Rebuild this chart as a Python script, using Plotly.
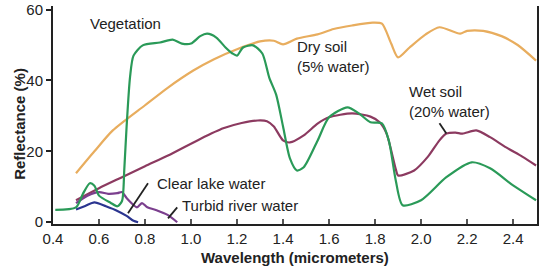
import plotly.graph_objects as go

# ---- data (wavelength in micrometers, reflectance in %) ----
veg_w = [0.41, 0.5, 0.53, 0.56, 0.58, 0.6, 0.65, 0.68, 0.70, 0.71, 0.72, 0.735, 0.75, 0.79, 0.865,
         0.92, 0.96, 1.0, 1.04, 1.07, 1.11, 1.15, 1.18, 1.2, 1.226, 1.27, 1.31, 1.34, 1.37, 1.40,
         1.43, 1.46, 1.49, 1.55, 1.6, 1.68, 1.73, 1.78, 1.83, 1.86, 1.89, 1.92, 2.0, 2.11, 2.22,
         2.3, 2.4, 2.5]
veg_r = [3.5, 4.2, 8, 11, 10.3, 7.5, 5.5, 4.5, 6, 15, 27, 41, 47, 49.9, 50.7,
         51.5, 50.4, 50.4, 52.5, 53.2, 52.1, 49.3, 47.6, 47, 49.3, 49.9, 47.6, 40.8, 36, 27,
         18, 14.6, 15.5, 23, 29.6, 32.4, 30.7, 28.2, 27.9, 23, 11.8, 4.8, 6.2, 12.7, 16.9,
         15.2, 10.4, 6.2]

dry_w = [0.5, 0.58, 0.66, 0.8, 0.9, 1.01, 1.1, 1.2, 1.3, 1.36, 1.4, 1.46, 1.55, 1.62, 1.7,
         1.79, 1.83, 1.87, 1.9, 1.95, 2.02, 2.08, 2.17, 2.2, 2.27, 2.35, 2.42, 2.5]
dry_r = [13.8, 20, 25.9, 33, 38, 42.8, 46, 48.8, 51, 51.2, 50.2, 51.8, 53, 54.5, 55.5,
         56.3, 56, 50.4, 46.5, 49.3, 53, 55, 53.2, 54, 54, 52.5, 50, 45.6]

wet_w = [0.5, 0.6, 0.7, 0.8, 0.9, 1.04, 1.14, 1.22, 1.29, 1.33, 1.36, 1.40, 1.43, 1.49, 1.55,
         1.6, 1.70, 1.78, 1.82, 1.85, 1.89, 1.9, 1.97, 2.03, 2.08, 2.11, 2.15, 2.18, 2.24,
         2.3, 2.37, 2.44, 2.5]
wet_r = [6.2, 9.6, 12.7, 15.8, 18.8, 23.5, 26.5, 28, 28.7, 28.5, 27, 23.1, 22.5, 24.5, 27.8,
         29.6, 30.7, 29.8, 28.2, 25, 15, 13.2, 14.6, 18.5, 23.1, 25, 25.3, 25, 25.9,
         24, 21.1, 18.5, 16]

lake_w = [0.5, 0.54, 0.58, 0.63, 0.68, 0.72, 0.75, 0.77]
lake_r = [3.6, 4.6, 5.6, 4.5, 3.2, 1.8, 0.4, 0]

river_w = [0.5, 0.55, 0.6, 0.64, 0.68, 0.70, 0.72, 0.765, 0.787, 0.81, 0.85, 0.9, 0.94]
river_r = [5.4, 7.5, 8.5, 8.0, 8.2, 8.5, 6.8, 4.2, 5.4, 4.2, 3.4, 2.0, 0]

x_ticks = [0.4, 0.6, 0.8, 1.0, 1.2, 1.4, 1.6, 1.8, 2.0, 2.2, 2.4]
y_ticks = [0, 20, 40, 60]

FONT = "Liberation Sans, Arial, sans-serif"
TXT = "#222222"

fig = go.Figure()

def add(w, r, color, name):
    fig.add_trace(go.Scatter(x=w, y=r, mode="lines", name=name,
                             line=dict(color=color, width=2.2, shape="spline", smoothing=0.7),
                             showlegend=False, hoverinfo="skip"))

add(dry_w, dry_r, "#e8ad5e", "Dry soil")
add(wet_w, wet_r, "#8c3a60", "Wet soil")
add(river_w, river_r, "#7b3f8e", "Turbid river water")
add(lake_w, lake_r, "#2b3590", "Clear lake water")
add(veg_w, veg_r, "#2a9a58", "Vegetation")

# pointer lines
fig.add_trace(go.Scatter(x=[0.813, 0.726], y=[11, 2.5], mode="lines",
                         line=dict(color="#222", width=1.8), showlegend=False, hoverinfo="skip"))
fig.add_trace(go.Scatter(x=[0.94, 0.9], y=[4.2, 1.1], mode="lines",
                         line=dict(color="#222", width=1.8), showlegend=False, hoverinfo="skip"))
fig.add_trace(go.Scatter(x=[2.08, 2.11], y=[27.9, 25], mode="lines",
                         line=dict(color="#222", width=1.8), showlegend=False, hoverinfo="skip"))

def label(x, y, text, xanchor="left"):
    fig.add_annotation(x=x, y=y, text=text, showarrow=False, xanchor=xanchor, yanchor="middle",
                       align="left", font=dict(family=FONT, size=15, color=TXT))

label(0.713, 56, "Vegetation", xanchor="center")
label(1.452, 46.8, "Dry soil<br>(5% water)")
label(1.939, 34.1, "Wet soil<br>(20% water)")
label(0.843, 11, "Clear lake water")
label(0.952, 4.8, "Turbid river water")

# axis titles as annotations (placed tightly as in the reference)
fig.add_annotation(xref="paper", yref="paper", x=0.5, y=-0.155, yanchor="middle",
                   text="<b>Wavelength (micrometers)</b>", showarrow=False,
                   font=dict(family=FONT, size=15, color=TXT))
fig.add_annotation(xref="paper", yref="paper", x=-0.068, y=0.46, xanchor="center", yanchor="middle",
                   text="<b>Reflectance (%)</b>", showarrow=False, textangle=-90,
                   font=dict(family=FONT, size=15, color=TXT))

fig.update_layout(
    width=543, height=268,
    margin=dict(l=53, r=6, t=6, b=44),
    paper_bgcolor="white", plot_bgcolor="white",
    font=dict(family=FONT, size=15, color=TXT),
)
fig.update_xaxes(range=[0.4, 2.504], tickvals=x_ticks, ticktext=[f"{v:.1f}" for v in x_ticks],
                 showgrid=False, zeroline=False, showline=True, linecolor="#222", linewidth=2,
                 ticks="inside", ticklen=5, tickcolor="#555", tickwidth=1.5, automargin=False,
                 tickfont=dict(family=FONT, size=15, color=TXT))
fig.update_yaxes(range=[-0.5, 61], tickvals=y_ticks,
                 showgrid=False, zeroline=False, showline=True, linecolor="#222", linewidth=2,
                 mirror=True, automargin=False,
                 ticks="outside", ticklen=5, tickcolor="#222", tickwidth=1.5,
                 tickfont=dict(family=FONT, size=15, color=TXT))

fig.write_html("out.html", config={"displayModeBar": False},
               post_script="document.body.style.margin='0';")
